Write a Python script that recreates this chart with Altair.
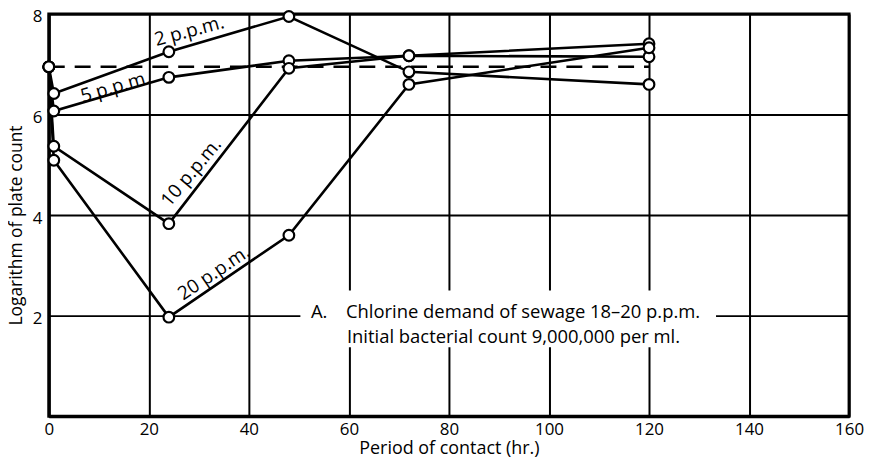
import altair as alt
import pandas as pd

# ---- data ----
hours = [0, 1, 24, 48, 72, 120]
ppm2 = [6.95, 6.42, 7.25, 7.95, 6.85, 6.60]
ppm5 = [6.95, 6.07, 6.74, 7.07, 7.17, 7.15]
ppm10 = [6.95, 5.37, 3.83, 6.92, 7.17, 7.41]
ppm20 = [6.95, 5.09, 1.97, 3.60, 6.60, 7.33]
series_names = ["2 p.p.m.", "5 p.p.m.", "10 p.p.m.", "20 p.p.m."]
series_values = [ppm2, ppm5, ppm10, ppm20]

# initial count line (log 9,000,000)
initial_level = [6.95]
initial_span = [0, 120]

# series labels placed along the curves
label_text = ["2 p.p.m.", "5 p.p.m.", "10 p.p.m.", "20 p.p.m."]
label_x = [28.1, 13.3, 28.5, 33.0]
label_y = [7.66, 6.55, 4.85, 2.85]
label_angle = [345, 344, 310, 326]

# annotation
note_a = ["A."]
note_lines = ["Chlorine demand of sewage 18\u201320 p.p.m.",
              "Initial bacterial count 9,000,000 per ml."]
note_a_x = [52.4]
note_x = [59.4, 59.6]
note_y = [1.96, 1.46]
note_box_x = [50.3, 133.4]
note_box_y = [1.37, 2.5]

x_ticks = [0, 20, 40, 60, 80, 100, 120, 140, 160]
y_ticks = [0, 2, 4, 6, 8]

FONT = "Open Sans"

rows = []
for name, vals in zip(series_names, series_values):
    for i, (h, v) in enumerate(zip(hours, vals)):
        rows.append({"series": name, "hours": h, "logcount": v, "order": i})
df = pd.DataFrame(rows)

labels_df = pd.DataFrame({"text": label_text, "x": label_x, "y": label_y, "angle": label_angle})
note_df = pd.DataFrame({"text": note_lines, "x": note_x, "y": note_y})
note_a_df = pd.DataFrame({"text": note_a, "x": note_a_x, "y": [note_y[0]]})
box_df = pd.DataFrame({"x": [note_box_x[0]], "x2": [note_box_x[1]],
                       "y": [note_box_y[0]], "y2": [note_box_y[1]]})
init_df = pd.DataFrame({"x": [initial_span[0]], "x2": [initial_span[1]], "y": initial_level})

xscale = alt.Scale(domain=[0, 160], nice=False, zero=False)
yscale = alt.Scale(domain=[0, 8], nice=False, zero=False)

xaxis = alt.Axis(values=x_ticks, title="Period of contact (hr.)", grid=True,
                 gridColor="black", gridWidth=2, gridOpacity=1,
                 domain=True, domainColor="black", domainWidth=3,
                 ticks=False, labelPadding=5, labelFontSize=17, labelFont=FONT,
                 labelColor="black", titleFont=FONT, titleFontSize=18,
                 titleFontWeight="normal", titleColor="black",
                 titleY=38, titleBaseline="alphabetic",
                 labelFlush=False)
yaxis = alt.Axis(values=y_ticks, title="Logarithm of plate count", grid=True,
                 gridColor="black", gridWidth=2, gridOpacity=1,
                 domain=True, domainColor="black", domainWidth=3,
                 ticks=False, labelPadding=7, labelFontSize=17, labelFont=FONT,
                 labelColor="black", labelOffset=3,
                 titleFont=FONT, titleFontSize=17.5,
                 titleFontWeight="normal", titleColor="black",
                 titleAngle=270, titleX=-27, titleY=212,
                 titleAlign="center", titleBaseline="alphabetic",
                 labelExpr="datum.value == 0 ? '' : datum.label", labelFlush=False)

box = alt.Chart(box_df).mark_rect(color="white").encode(
    x=alt.X("x:Q", scale=xscale, axis=xaxis), x2="x2:Q",
    y=alt.Y("y:Q", scale=yscale, axis=yaxis), y2="y2:Q")

init_line = alt.Chart(init_df).mark_rule(color="black", strokeWidth=2.5,
                                         strokeDash=[16, 10]).encode(
    x=alt.X("x:Q", scale=xscale), x2="x2:Q", y=alt.Y("y:Q", scale=yscale))

lines = alt.Chart(df).mark_line(color="black", strokeWidth=2.6).encode(
    x=alt.X("hours:Q", scale=xscale),
    y=alt.Y("logcount:Q", scale=yscale),
    detail="series:N", order="order:Q")

points = alt.Chart(df).mark_point(shape="circle", filled=False, fill="white",
                                  fillOpacity=1, color="black", stroke="black",
                                  strokeWidth=2.2, size=115, opacity=1).encode(
    x=alt.X("hours:Q", scale=xscale),
    y=alt.Y("logcount:Q", scale=yscale))

series_labels = alt.Chart(labels_df).mark_text(font=FONT, fontSize=19, color="black",
                                               align="center", baseline="middle").encode(
    x=alt.X("x:Q", scale=xscale), y=alt.Y("y:Q", scale=yscale),
    text="text:N", angle=alt.Angle("angle:Q", scale=None))

note = alt.Chart(note_df).mark_text(font=FONT, fontSize=18.5, color="black",
                                    align="left", baseline="alphabetic").encode(
    x=alt.X("x:Q", scale=xscale), y=alt.Y("y:Q", scale=yscale), text="text:N")

note_a_mark = alt.Chart(note_a_df).mark_text(font=FONT, fontSize=18.5, color="black",
                                             align="left", baseline="alphabetic").encode(
    x=alt.X("x:Q", scale=xscale), y=alt.Y("y:Q", scale=yscale), text="text:N")

chart = alt.layer(box, init_line, lines, points, series_labels, note, note_a_mark).properties(
    width=804, height=404,
    autosize=alt.AutoSizeParams(type="none"),
    padding={"left": 41, "top": 5, "right": 15, "bottom": 45},
    background="white",
).configure_view(stroke="black", strokeWidth=3)

chart.save("out.html", embed_options={"renderer": "svg", "actions": False})
